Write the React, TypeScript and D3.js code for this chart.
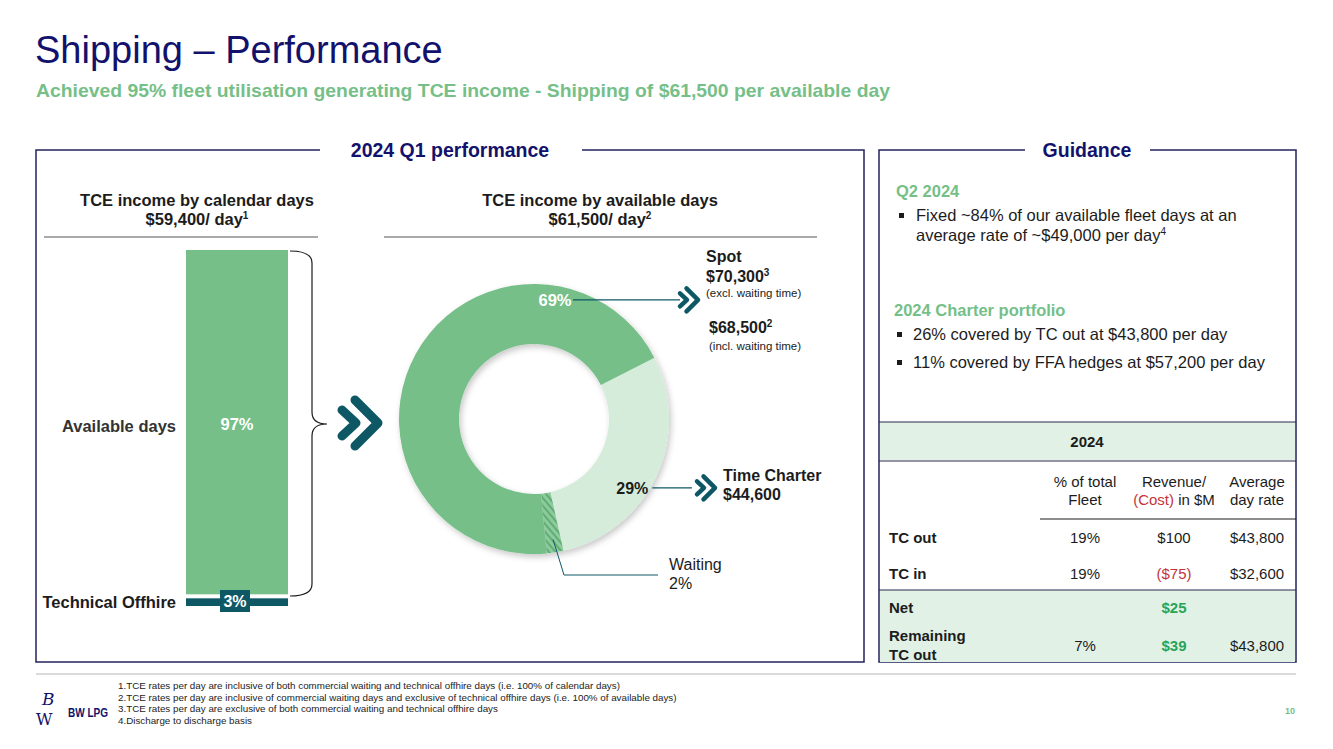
import React from 'react';
import * as d3 from 'd3';

const barSegments = [
  { key: 'offhire', label: 'Technical Offhire', value: 3 },
  { key: 'available', label: 'Available days', value: 97 },
];

const donutSegments = [
  { key: 'tc', label: 'Time Charter', value: 29 },
  { key: 'waiting', label: 'Waiting', value: 2 },
  { key: 'spot', label: 'Spot', value: 69 },
];

const q2Bullets = [['Fixed ~84% of our available fleet days at an', 'average rate of ~$49,000 per day']];
const charterBullets = ['26% covered by TC out at $43,800 per day', '11% covered by FFA hedges at $57,200 per day'];

const tableHeaders = [['% of total', 'Fleet'], ['Revenue/', 'in $M'], ['Average', 'day rate']];
const tableRows = [
  { label: ['TC out'], share: '19%', revenue: '$100', rate: '$43,800', tone: 'plain' },
  { label: ['TC in'], share: '19%', revenue: '($75)', rate: '$32,600', tone: 'cost' },
  { label: ['Net'], share: '', revenue: '$25', rate: '', tone: 'net' },
  { label: ['Remaining', 'TC out'], share: '7%', revenue: '$39', rate: '$43,800', tone: 'net' },
];

const footnotes = [
  '1.TCE rates per day are inclusive of both commercial waiting and technical offhire days (i.e. 100% of calendar days)',
  '2.TCE rates per day are inclusive of commercial waiting days and exclusive of technical offhire days (i.e. 100% of available days)',
  '3.TCE rates per day are exclusive of both commercial waiting and technical offhire days',
  '4.Discharge to discharge basis',
];

const NAVY = '#12126c';
const BORDER = '#23235f';
const GREEN = '#76bf88';
const LIGHT = '#d5ecdb';
const TEAL = '#0e5866';
const INK = '#1c1c1c';
const BAND = '#e1f1e6';
const FONT = '"Liberation Sans", Arial, sans-serif';
const NARROW = '"Liberation Sans Narrow", "Arial Narrow", "Liberation Sans", Arial, sans-serif';

const Chevrons = ({ x, y, s = 1 }: { x: number; y: number; s?: number }) => (
  <g transform={`translate(${x},${y}) scale(${s})`} fill="none" stroke={TEAL} strokeWidth={9} strokeLinecap="round" strokeLinejoin="round">
    <path d="M-16,-13 L-2,0 L-16,13" />
    <path d="M-3,-23 L20,0 L-3,23" />
  </g>
);

const App: React.FC = () => {
  const width = 1333;
  const height = 749;

  // stacked bar
  const y = d3.scaleLinear().domain([0, 100]).range([606, 250]);
  const offhire = barSegments[0];
  const avail = barSegments[1];
  const barX = 186;
  const barW = 102;

  // donut
  const cx = 534;
  const cy = 419;
  const rOuter = 135;
  const rInner = 75;
  const startA = (63 * Math.PI) / 180;
  const pie = d3.pie<typeof donutSegments[number]>().value(d => d.value).sort(null)
    .startAngle(startA).endAngle(startA + 2 * Math.PI);
  const arc = d3.arc<d3.PieArcDatum<typeof donutSegments[number]>>().innerRadius(rInner).outerRadius(rOuter);
  const arcs = pie(donutSegments);
  const fills: Record<string, string> = { tc: LIGHT, waiting: 'url(#hatch)', spot: GREEN };
  const at = (deg: number, r: number) => {
    const a = (deg * Math.PI) / 180;
    return [cx + r * Math.sin(a), cy - r * Math.cos(a)];
  };
  const spotLbl = at(10, 121);
  const tcLbl = at(125, 120);
  const waitPt = at(171, 122);

  const colX = [1085, 1174, 1257];

  return (
    <svg width={width} height={height} style={{ position: 'absolute', left: 0, top: 0, background: '#fff' }} fontFamily={FONT}>
      <defs>
        <pattern id="hatch" patternUnits="userSpaceOnUse" width={5} height={5} patternTransform="rotate(-40)">
          <rect width={5} height={5} fill="#8ccb9b" />
          <rect width={2} height={5} fill="#62ad76" />
        </pattern>
        <filter id="shadow" x="-20%" y="-20%" width="140%" height="140%">
          <feDropShadow dx={2} dy={3} stdDeviation={3} floodColor="#000" floodOpacity={0.22} />
        </filter>
      </defs>

      {/* heading */}
      <text x={35} y={63} fontSize={38} fill={NAVY}>Shipping – Performance</text>
      <text x={36} y={97} fontSize={19} fontWeight="bold" fill={GREEN} fontFamily={NARROW}
        textLength={854} lengthAdjust="spacingAndGlyphs">
        Achieved 95% fleet utilisation generating TCE income - Shipping of $61,500 per available day
      </text>

      {/* left panel frame */}
      <path d={`M320,150 H36 V662 H864 V150 H582`} fill="none" stroke={BORDER} strokeWidth={1.5} />
      <text x={450} y={157} textAnchor="middle" fontSize={19.5} fontWeight="bold" fill={NAVY}>2024 Q1 performance</text>

      {/* right panel frame */}
      <path d={`M1025,150 H879 V662 H1296 V150 H1150`} fill="none" stroke={BORDER} strokeWidth={1.5} />
      <text x={1087} y={157} textAnchor="middle" fontSize={19.5} fontWeight="bold" fill={NAVY}>Guidance</text>

      {/* section headings */}
      <g fontSize={16.5} fontWeight="bold" fill={INK} textAnchor="middle">
        <text x={197} y={206}>TCE income by calendar days</text>
        <text x={197} y={225}>$59,400/ day<tspan fontSize={10} dy={-6}>1</tspan></text>
        <text x={600} y={206}>TCE income by available days</text>
        <text x={600} y={225}>$61,500/ day<tspan fontSize={10} dy={-6}>2</tspan></text>
      </g>
      <line x1={44} x2={318} y1={237} y2={237} stroke="#555" strokeWidth={1.2} />
      <line x1={384} x2={817} y1={237} y2={237} stroke="#555" strokeWidth={1.2} />

      {/* stacked bar */}
      <rect x={barX} y={y(offhire.value + avail.value)} width={barW} height={y(offhire.value) - y(offhire.value + avail.value) - 1} fill={GREEN} />
      <rect x={barX} y={y(offhire.value) + 3} width={barW} height={y(0) - y(offhire.value) - 3} fill={TEAL} />
      <rect x={220} y={590} width={30} height={22} fill={TEAL} />
      <text x={235} y={607} textAnchor="middle" fontSize={16} fontWeight="bold" fill="#fff">{offhire.value}%</text>
      <text x={237} y={430} textAnchor="middle" fontSize={16.5} fontWeight="bold" fill="#fff">{avail.value}%</text>
      <text x={176} y={432} textAnchor="end" fontSize={16.5} fontWeight="bold" fill="#333">{avail.label}</text>
      <text x={176} y={608} textAnchor="end" fontSize={16.5} fontWeight="bold" fill={INK}>{offhire.label}</text>

      {/* brace */}
      <path d="M290,251 Q312,251 312,263 L312,412 Q312,424 327,424 Q312,424 312,436 L312,584 Q312,596 290,596"
        fill="none" stroke={INK} strokeWidth={1.2} />
      <Chevrons x={358} y={423} s={1} />

      {/* donut */}
      <g filter="url(#shadow)">
        {arcs.map(a => (
          <path key={a.data.key} d={arc(a) as string} transform={`translate(${cx},${cy})`} fill={fills[a.data.key]} />
        ))}
      </g>

      {/* spot label */}
      <text x={spotLbl[0]} y={spotLbl[1] + 6} textAnchor="middle" fontSize={16.5} fontWeight="bold" fill="#fff">69%</text>
      <line x1={spotLbl[0] + 18} x2={680} y1={spotLbl[1]} y2={spotLbl[1]} stroke={TEAL} strokeWidth={1.2} />
      <Chevrons x={688} y={spotLbl[1]} s={0.5} />
      <g fill={INK}>
        <text x={706} y={262} fontSize={16} fontWeight="bold">Spot</text>
        <text x={706} y={282} fontSize={16} fontWeight="bold">$70,300<tspan fontSize={10} dy={-6}>3</tspan></text>
        <text x={706} y={297} fontSize={11.5}>(excl. waiting time)</text>
        <text x={709} y={333} fontSize={16} fontWeight="bold">$68,500<tspan fontSize={10} dy={-6}>2</tspan></text>
        <text x={709} y={350} fontSize={11.5}>(incl. waiting time)</text>
      </g>

      {/* time charter label */}
      <text x={tcLbl[0]} y={tcLbl[1] + 6} textAnchor="middle" fontSize={16} fontWeight="bold" fill={INK}>29%</text>
      <line x1={tcLbl[0] + 20} x2={692} y1={tcLbl[1]} y2={tcLbl[1]} stroke={TEAL} strokeWidth={1.2} />
      <Chevrons x={705} y={tcLbl[1]} s={0.5} />
      <text x={723} y={481} fontSize={16} fontWeight="bold" fill={INK}>Time Charter</text>
      <text x={723} y={500} fontSize={16} fontWeight="bold" fill={INK}>$44,600</text>

      {/* waiting label */}
      <path d={`M${waitPt[0]},${waitPt[1]} L564,575 H658`} fill="none" stroke={TEAL} strokeWidth={1} />
      <text x={669} y={570} fontSize={16} fill={INK}>Waiting</text>
      <text x={669} y={589} fontSize={16} fill={INK}>2%</text>

      {/* guidance */}
      <text x={896} y={197} fontSize={16.5} fontWeight="bold" fill={GREEN}>Q2 2024</text>
      {q2Bullets.map((lines, i) => (
        <g key={i}>
          <rect x={899} y={213} width={5} height={5} fill={INK} />
          {lines.map((l, j) => (
            <text key={j} x={916} y={221 + j * 20} fontSize={16.5} fill={INK}>
              {l}{j === lines.length - 1 && <tspan fontSize={10} dy={-6}>4</tspan>}
            </text>
          ))}
        </g>
      ))}
      <text x={894} y={316} fontSize={16.5} fontWeight="bold" fill={GREEN}>2024 Charter portfolio</text>
      {charterBullets.map((b, i) => (
        <g key={b}>
          <rect x={897} y={332 + i * 28} width={5} height={5} fill={INK} />
          <text x={913} y={340 + i * 28} fontSize={16.5} fill={INK}>{b}</text>
        </g>
      ))}

      {/* table */}
      <rect x={880} y={422} width={415} height={38} fill={BAND} />
      <line x1={879} x2={1296} y1={422} y2={422} stroke="#2b2b4a" strokeWidth={1.2} />
      <line x1={879} x2={1296} y1={461} y2={461} stroke="#2b2b4a" strokeWidth={1.2} />
      <text x={1087} y={447} textAnchor="middle" fontSize={15} fontWeight="bold" fill={INK}>2024</text>
      {tableHeaders.map((h, i) => (
        <g key={i} fontSize={15} fill={INK} textAnchor="middle">
          <text x={colX[i]} y={487}>{h[0]}</text>
          <text x={colX[i]} y={505}>
            {i === 1 && <tspan fill="#c4333b">(Cost) </tspan>}{h[1]}
          </text>
        </g>
      ))}
      <line x1={1040} x2={1296} y1={519} y2={519} stroke={INK} strokeWidth={1.2} />
      <rect x={880} y={590} width={415} height={72} fill={BAND} />
      <line x1={879} x2={1296} y1={590} y2={590} stroke="#2b2b4a" strokeWidth={1.2} />
      {tableRows.map((r, i) => {
        const yy = [543, 579, 613, 651][i];
        const revColor = r.tone === 'cost' ? '#c4333b' : r.tone === 'net' ? '#27a559' : INK;
        return (
          <g key={i} fontSize={15} fill={INK}>
            {r.label.length === 1
              ? <text x={889} y={yy} fontWeight="bold">{r.label[0]}</text>
              : r.label.map((l, j) => <text key={j} x={889} y={yy - 10 + j * 19} fontWeight="bold">{l}</text>)}
            <text x={colX[0]} y={yy} textAnchor="middle">{r.share}</text>
            <text x={colX[1]} y={yy} textAnchor="middle" fill={revColor} fontWeight={r.tone === 'net' ? 'bold' : 'normal'}>{r.revenue}</text>
            <text x={colX[2]} y={yy} textAnchor="middle">{r.rate}</text>
          </g>
        );
      })}

      {/* footer */}
      <line x1={36} x2={1296} y1={674} y2={674} stroke="#b5b5b5" strokeWidth={1} />
      <g fill={NAVY}>
        <text x={42} y={705} fontSize={17} fontFamily="'DejaVu Serif', serif" fontStyle="italic">B</text>
        <text x={36} y={725} fontSize={16} fontFamily="'DejaVu Serif', serif">W</text>
        <text x={68} y={717} fontSize={13} fontWeight="bold" textLength={40} lengthAdjust="spacingAndGlyphs">BW LPG</text>
      </g>
      {footnotes.map((f, i) => (
        <text key={i} x={118} y={689 + i * 11.5} fontSize={9.8} fill={INK} fontFamily={NARROW}>{f}</text>
      ))}
      <text x={1295} y={714} textAnchor="end" fontSize={9} fontWeight="bold" fill={GREEN}>10</text>
    </svg>
  );
};

export default App;
